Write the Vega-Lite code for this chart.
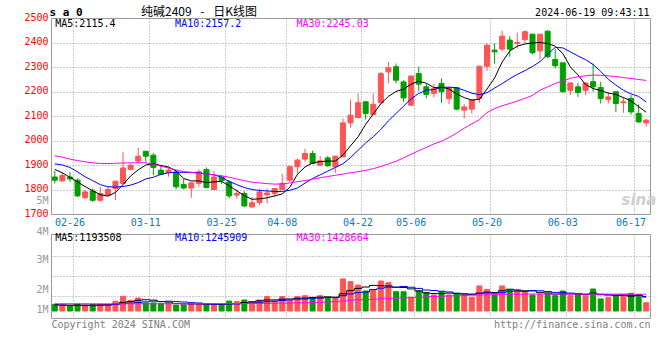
{
  "$schema": "https://vega.github.io/schema/vega-lite/v6.json",
  "autosize": {"type": "pad"},
  "padding": {"left": 23, "top": 5, "right": 5, "bottom": 5},
  "background": "#ffffff",
  "bounds": "flush",
  "spacing": 20,
  "datasets": {
    "k": [
      {"d":"02-22","o":1851,"h":1876,"l":1824,"c":1838,"v":570000,"m5":1882,"m10":1905,"m30":1938,"vm5":550000,"vm10":510000,"vm30":620000},
      {"d":"02-23","o":1835,"h":1870,"l":1833,"c":1857,"v":490000,"m5":1868,"m10":1900,"m30":1932,"vm5":520000,"vm10":500000,"vm30":620000},
      {"d":"02-26","o":1851,"h":1872,"l":1831,"c":1843,"v":430000,"m5":1850,"m10":1890,"m30":1924,"vm5":500000,"vm10":480000,"vm30":620000},
      {"d":"02-27","o":1838,"h":1845,"l":1770,"c":1774,"v":570000,"m5":1831,"m10":1872,"m30":1918,"vm5":520000,"vm10":470000,"vm30":620000},
      {"d":"02-28","o":1767,"h":1800,"l":1761,"c":1790,"v":490000,"m5":1812,"m10":1852,"m30":1913,"vm5":510000,"vm10":460000,"vm30":620000},
      {"d":"02-29","o":1794,"h":1804,"l":1750,"c":1756,"v":570000,"m5":1795,"m10":1836,"m30":1909,"vm5":510000,"vm10":460000,"vm30":610000},
      {"d":"03-01","o":1756,"h":1811,"l":1750,"c":1784,"v":570000,"m5":1779,"m10":1820,"m30":1906,"vm5":530000,"vm10":480000,"vm30":610000},
      {"d":"03-04","o":1777,"h":1811,"l":1773,"c":1800,"v":490000,"m5":1773,"m10":1811,"m30":1906,"vm5":540000,"vm10":500000,"vm30":610000},
      {"d":"03-05","o":1804,"h":1836,"l":1757,"c":1834,"v":830000,"m5":1788,"m10":1810,"m30":1907,"vm5":590000,"vm10":550000,"vm30":610000},
      {"d":"03-06","o":1825,"h":1952,"l":1820,"c":1888,"v":1260000,"m5":1820,"m10":1812,"m30":1908,"vm5":740000,"vm10":630000,"vm30":620000},
      {"d":"03-07","o":1882,"h":1906,"l":1880,"c":1899,"v":910000,"m5":1855,"m10":1818,"m30":1909,"vm5":810000,"vm10":670000,"vm30":620000},
      {"d":"03-08","o":1916,"h":1970,"l":1906,"c":1936,"v":1110000,"m5":1880,"m10":1828,"m30":1909,"vm5":920000,"vm10":730000,"vm30":620000},
      {"d":"03-11","o":1956,"h":1956,"l":1913,"c":1936,"v":690000,"m5":1900,"m10":1843,"m30":1909,"vm5":960000,"vm10":780000,"vm30":620000},
      {"d":"03-12","o":1940,"h":1948,"l":1858,"c":1890,"v":690000,"m5":1905,"m10":1850,"m30":1903,"vm5":930000,"vm10":840000,"vm30":620000},
      {"d":"03-13","o":1879,"h":1900,"l":1858,"c":1862,"v":660000,"m5":1898,"m10":1862,"m30":1895,"vm5":810000,"vm10":810000,"vm30":620000},
      {"d":"03-14","o":1869,"h":1892,"l":1852,"c":1879,"v":660000,"m5":1892,"m10":1868,"m30":1888,"vm5":760000,"vm10":840000,"vm30":620000},
      {"d":"03-15","o":1872,"h":1879,"l":1800,"c":1811,"v":510000,"m5":1876,"m10":1870,"m30":1880,"vm5":640000,"vm10":800000,"vm30":620000},
      {"d":"03-18","o":1820,"h":1845,"l":1800,"c":1806,"v":510000,"m5":1845,"m10":1870,"m30":1873,"vm5":610000,"vm10":770000,"vm30":620000},
      {"d":"03-19","o":1806,"h":1830,"l":1766,"c":1827,"v":660000,"m5":1835,"m10":1870,"m30":1870,"vm5":600000,"vm10":710000,"vm30":620000},
      {"d":"03-20","o":1825,"h":1882,"l":1811,"c":1872,"v":660000,"m5":1835,"m10":1868,"m30":1866,"vm5":600000,"vm10":680000,"vm30":620000},
      {"d":"03-21","o":1882,"h":1890,"l":1804,"c":1808,"v":510000,"m5":1828,"m10":1864,"m30":1863,"vm5":570000,"vm10":610000,"vm30":620000},
      {"d":"03-22","o":1800,"h":1876,"l":1800,"c":1851,"v":510000,"m5":1831,"m10":1860,"m30":1860,"vm5":570000,"vm10":590000,"vm30":630000},
      {"d":"03-25","o":1851,"h":1858,"l":1822,"c":1836,"v":510000,"m5":1833,"m10":1850,"m30":1856,"vm5":570000,"vm10":590000,"vm30":630000},
      {"d":"03-26","o":1831,"h":1838,"l":1763,"c":1774,"v":850000,"m5":1815,"m10":1833,"m30":1850,"vm5":610000,"vm10":600000,"vm30":630000},
      {"d":"03-27","o":1777,"h":1800,"l":1763,"c":1784,"v":800000,"m5":1795,"m10":1820,"m30":1843,"vm5":640000,"vm10":600000,"vm30":640000},
      {"d":"03-28","o":1784,"h":1793,"l":1729,"c":1733,"v":940000,"m5":1775,"m10":1808,"m30":1836,"vm5":720000,"vm10":650000,"vm30":640000},
      {"d":"03-29","o":1729,"h":1770,"l":1725,"c":1746,"v":800000,"m5":1760,"m10":1800,"m30":1830,"vm5":780000,"vm10":680000,"vm30":640000},
      {"d":"04-01","o":1747,"h":1804,"l":1736,"c":1790,"v":940000,"m5":1762,"m10":1796,"m30":1827,"vm5":870000,"vm10":740000,"vm30":650000},
      {"d":"04-02","o":1778,"h":1804,"l":1743,"c":1786,"v":1230000,"m5":1766,"m10":1794,"m30":1824,"vm5":940000,"vm10":790000,"vm30":650000},
      {"d":"04-03","o":1784,"h":1806,"l":1770,"c":1804,"v":850000,"m5":1774,"m10":1792,"m30":1822,"vm5":950000,"vm10":840000,"vm30":660000},
      {"d":"04-08","o":1800,"h":1863,"l":1798,"c":1825,"v":1230000,"m5":1782,"m10":1792,"m30":1823,"vm5":1010000,"vm10":900000,"vm30":670000},
      {"d":"04-09","o":1838,"h":1899,"l":1831,"c":1893,"v":900000,"m5":1809,"m10":1797,"m30":1827,"vm5":1030000,"vm10":950000,"vm30":680000},
      {"d":"04-10","o":1893,"h":1927,"l":1865,"c":1920,"v":1230000,"m5":1862,"m10":1806,"m30":1832,"vm5":1090000,"vm10":1010000,"vm30":690000},
      {"d":"04-11","o":1924,"h":1967,"l":1913,"c":1947,"v":1310000,"m5":1892,"m10":1826,"m30":1836,"vm5":1100000,"vm10":1030000,"vm30":700000},
      {"d":"04-12","o":1947,"h":1958,"l":1904,"c":1906,"v":1140000,"m5":1908,"m10":1845,"m30":1842,"vm5":1160000,"vm10":1090000,"vm30":720000},
      {"d":"04-15","o":1899,"h":1936,"l":1897,"c":1917,"v":1310000,"m5":1914,"m10":1860,"m30":1848,"vm5":1180000,"vm10":1100000,"vm30":740000},
      {"d":"04-16","o":1929,"h":1936,"l":1893,"c":1897,"v":1080000,"m5":1916,"m10":1875,"m30":1853,"vm5":1210000,"vm10":1150000,"vm30":770000},
      {"d":"04-17","o":1893,"h":1938,"l":1868,"c":1936,"v":1080000,"m5":1916,"m10":1890,"m30":1858,"vm5":1180000,"vm10":1140000,"vm30":800000},
      {"d":"04-18","o":1933,"h":2090,"l":1933,"c":2072,"v":2740000,"m5":1940,"m10":1905,"m30":1863,"vm5":1470000,"vm10":1310000,"vm30":860000},
      {"d":"04-19","o":2072,"h":2167,"l":2053,"c":2103,"v":2510000,"m5":1978,"m10":1930,"m30":1868,"vm5":1740000,"vm10":1460000,"vm30":920000},
      {"d":"04-22","o":2094,"h":2192,"l":2090,"c":2154,"v":2220000,"m5":2015,"m10":1960,"m30":1873,"vm5":1930000,"vm10":1570000,"vm30":960000},
      {"d":"04-23","o":2158,"h":2160,"l":2086,"c":2110,"v":1710000,"m5":2066,"m10":1990,"m30":1878,"vm5":2050000,"vm10":1620000,"vm30":980000},
      {"d":"04-24","o":2106,"h":2192,"l":2104,"c":2148,"v":1790000,"m5":2108,"m10":2015,"m30":1885,"vm5":2190000,"vm10":1830000,"vm30":1000000},
      {"d":"04-25","o":2154,"h":2280,"l":2150,"c":2273,"v":2560000,"m5":2150,"m10":2045,"m30":1894,"vm5":2160000,"vm10":1950000,"vm30":1040000},
      {"d":"04-26","o":2280,"h":2321,"l":2233,"c":2297,"v":2420000,"m5":2180,"m10":2080,"m30":1904,"vm5":2140000,"vm10":2040000,"vm30":1080000},
      {"d":"04-29","o":2301,"h":2314,"l":2233,"c":2246,"v":1650000,"m5":2200,"m10":2110,"m30":1915,"vm5":2030000,"vm10":2040000,"vm30":1100000},
      {"d":"04-30","o":2239,"h":2246,"l":2158,"c":2174,"v":1650000,"m5":2210,"m10":2140,"m30":1929,"vm5":2010000,"vm10":2100000,"vm30":1120000},
      {"d":"05-06","o":2144,"h":2265,"l":2142,"c":2263,"v":1170000,"m5":2230,"m10":2170,"m30":1944,"vm5":1890000,"vm10":2030000,"vm30":1140000},
      {"d":"05-07","o":2273,"h":2301,"l":2201,"c":2230,"v":1710000,"m5":2242,"m10":2192,"m30":1958,"vm5":1720000,"vm10":1930000,"vm30":1170000},
      {"d":"05-08","o":2219,"h":2233,"l":2172,"c":2188,"v":1570000,"m5":2234,"m10":2205,"m30":1972,"vm5":1550000,"vm10":1790000,"vm30":1200000},
      {"d":"05-09","o":2192,"h":2233,"l":2176,"c":2212,"v":1370000,"m5":2216,"m10":2208,"m30":1986,"vm5":1490000,"vm10":1750000,"vm30":1230000},
      {"d":"05-10","o":2233,"h":2253,"l":2154,"c":2199,"v":1650000,"m5":2218,"m10":2216,"m30":1997,"vm5":1490000,"vm10":1690000,"vm30":1260000},
      {"d":"05-13","o":2171,"h":2216,"l":2148,"c":2216,"v":1370000,"m5":2210,"m10":2218,"m30":2012,"vm5":1530000,"vm10":1630000,"vm30":1290000},
      {"d":"05-14","o":2216,"h":2218,"l":2124,"c":2128,"v":1510000,"m5":2190,"m10":2215,"m30":2030,"vm5":1490000,"vm10":1520000,"vm30":1310000},
      {"d":"05-15","o":2124,"h":2148,"l":2090,"c":2137,"v":1370000,"m5":2175,"m10":2205,"m30":2050,"vm5":1450000,"vm10":1470000,"vm30":1330000},
      {"d":"05-16","o":2128,"h":2167,"l":2110,"c":2165,"v":1170000,"m5":2165,"m10":2193,"m30":2068,"vm5":1410000,"vm10":1450000,"vm30":1350000},
      {"d":"05-17","o":2171,"h":2305,"l":2154,"c":2303,"v":2140000,"m5":2168,"m10":2187,"m30":2085,"vm5":1510000,"vm10":1520000,"vm30":1370000},
      {"d":"05-20","o":2303,"h":2396,"l":2284,"c":2389,"v":1850000,"m5":2210,"m10":2195,"m30":2114,"vm5":1610000,"vm10":1550000,"vm30":1390000},
      {"d":"05-21","o":2369,"h":2396,"l":2314,"c":2362,"v":1370000,"m5":2255,"m10":2214,"m30":2130,"vm5":1580000,"vm10":1520000,"vm30":1400000},
      {"d":"05-22","o":2373,"h":2448,"l":2362,"c":2426,"v":2140000,"m5":2320,"m10":2232,"m30":2142,"vm5":1730000,"vm10":1570000,"vm30":1420000},
      {"d":"05-23","o":2410,"h":2426,"l":2342,"c":2373,"v":1790000,"m5":2365,"m10":2252,"m30":2151,"vm5":1860000,"vm10":1690000,"vm30":1430000},
      {"d":"05-24","o":2396,"h":2440,"l":2376,"c":2400,"v":1790000,"m5":2385,"m10":2270,"m30":2161,"vm5":1790000,"vm10":1700000,"vm30":1440000},
      {"d":"05-27","o":2412,"h":2450,"l":2396,"c":2444,"v":1570000,"m5":2394,"m10":2285,"m30":2172,"vm5":1730000,"vm10":1660000,"vm30":1440000},
      {"d":"05-28","o":2434,"h":2434,"l":2352,"c":2358,"v":1370000,"m5":2398,"m10":2302,"m30":2184,"vm5":1730000,"vm10":1730000,"vm30":1450000},
      {"d":"05-29","o":2366,"h":2434,"l":2331,"c":2434,"v":1450000,"m5":2400,"m10":2322,"m30":2205,"vm5":1590000,"vm10":1730000,"vm30":1450000},
      {"d":"05-30","o":2446,"h":2450,"l":2335,"c":2342,"v":1510000,"m5":2396,"m10":2352,"m30":2219,"vm5":1540000,"vm10":1670000,"vm30":1450000},
      {"d":"05-31","o":2331,"h":2373,"l":2294,"c":2305,"v":1310000,"m5":2385,"m10":2380,"m30":2233,"vm5":1440000,"vm10":1590000,"vm30":1450000},
      {"d":"06-03","o":2317,"h":2317,"l":2195,"c":2199,"v":1710000,"m5":2355,"m10":2378,"m30":2242,"vm5":1470000,"vm10":1600000,"vm30":1450000},
      {"d":"06-04","o":2205,"h":2235,"l":2185,"c":2235,"v":1310000,"m5":2300,"m10":2362,"m30":2254,"vm5":1460000,"vm10":1530000,"vm30":1450000},
      {"d":"06-05","o":2219,"h":2235,"l":2178,"c":2196,"v":1420000,"m5":2268,"m10":2345,"m30":2260,"vm5":1450000,"vm10":1500000,"vm30":1450000},
      {"d":"06-06","o":2205,"h":2235,"l":2185,"c":2235,"v":1310000,"m5":2228,"m10":2330,"m30":2264,"vm5":1410000,"vm10":1430000,"vm30":1450000},
      {"d":"06-07","o":2240,"h":2314,"l":2199,"c":2219,"v":1880000,"m5":2212,"m10":2310,"m30":2267,"vm5":1530000,"vm10":1500000,"vm30":1450000},
      {"d":"06-11","o":2216,"h":2240,"l":2151,"c":2171,"v":1030000,"m5":2204,"m10":2282,"m30":2266,"vm5":1390000,"vm10":1430000,"vm30":1440000},
      {"d":"06-12","o":2167,"h":2199,"l":2151,"c":2178,"v":1140000,"m5":2193,"m10":2250,"m30":2264,"vm5":1360000,"vm10":1410000,"vm30":1440000},
      {"d":"06-13","o":2199,"h":2199,"l":2117,"c":2151,"v":1310000,"m5":2188,"m10":2226,"m30":2261,"vm5":1330000,"vm10":1370000,"vm30":1440000},
      {"d":"06-14","o":2154,"h":2178,"l":2113,"c":2158,"v":1310000,"m5":2175,"m10":2205,"m30":2257,"vm5":1330000,"vm10":1430000,"vm30":1430000},
      {"d":"06-17","o":2171,"h":2185,"l":2106,"c":2117,"v":1510000,"m5":2162,"m10":2190,"m30":2253,"vm5":1260000,"vm10":1330000,"vm30":1430000},
      {"d":"06-18","o":2110,"h":2148,"l":2072,"c":2076,"v":1420000,"m5":2138,"m10":2180,"m30":2249,"vm5":1340000,"vm10":1350000,"vm30":1430000},
      {"d":"06-19","o":2072,"h":2090,"l":2056,"c":2083,"v":710000,"m5":2115.4,"m10":2157.2,"m30":2245.03,"vm5":1193508,"vm10":1245909,"vm30":1428664}
    ]
  },
  "vconcat": [
    {
      "width": 599,
      "height": 196,
      "data": {"name": "k"},
      "title": {"text": "纯碱2409\u2002 - \u2002日K线图", "anchor": "start", "frame": "group", "dx": 90, "dy": 25, "offset": 0, "baseline": "bottom", "font": "Noto Sans CJK SC", "fontSize": 12, "fontWeight": "normal", "color": "#000000"},
      "layer": [
        {
          "mark": {"type": "rule", "strokeWidth": 1},
          "encoding": {
            "x": {"field": "d", "type": "ordinal", "sort": null,
              "axis": {"values": ["02-26","03-11","03-25","04-08","04-22","05-06","05-20","06-03","06-17"], "bandPosition": 1, "labelAngle": 0, "labelColor": "#0a78c8", "labelPadding": 3, "labelOverlap": false, "labelFlush": false, "grid": true,
                "title": "2024-06-19 09:43:11", "titleX": 598, "titleY": -202, "titleAlign": "right", "titleBaseline": "middle", "titleColor": "#000000"}},
            "y": {"field": "l", "type": "quantitative", "scale": {"domain": [1700, 2500], "nice": false, "zero": false},
              "axis": {"values": [1700,1750,1800,1900,2000,2100,2200,2300,2400,2500], "tickCount": 40, "format": "d",
                "labelExpr": "datum.value == 1750 ? '5M' : datum.label",
                "labelColor": {"condition": {"test": "datum.value == 1750", "value": "#999999"}, "value": "#ff0000"},
                "gridOpacity": {"condition": {"test": "datum.value == 1750", "value": 0}, "value": 1},
                "labelOffset": -1, "labelPadding": 3, "labelOverlap": false, "grid": true,
                "title": "s a 0", "titleAngle": 0, "titleX": -2, "titleY": -6, "titleAlign": "left", "titleBaseline": "middle", "titleFontWeight": "bold", "titleFontSize": 11, "titleColor": "#000000"}},
            "y2": {"field": "h"},
            "color": {"condition": {"test": "datum.c >= datum.o", "value": "#ff5555"}, "value": "#009f00"}
          }
        },
        {
          "mark": {"type": "bar", "size": 5, "strokeWidth": 1},
          "encoding": {
            "x": {"field": "d", "type": "ordinal", "sort": null},
            "y": {"field": "o", "type": "quantitative"},
            "y2": {"field": "c"},
            "fill": {"condition": {"test": "datum.c >= datum.o", "value": "#ff5555"}, "value": "#009f00"},
            "stroke": {"condition": {"test": "datum.c >= datum.o", "value": "#ff5555"}, "value": "#009f00"}
          }
        },
        {"mark": {"type": "line", "color": "#000000", "strokeWidth": 1}, "encoding": {"x": {"field": "d", "type": "ordinal", "sort": null}, "y": {"field": "m5", "type": "quantitative"}}},
        {"mark": {"type": "line", "color": "#0000ff", "strokeWidth": 1}, "encoding": {"x": {"field": "d", "type": "ordinal", "sort": null}, "y": {"field": "m10", "type": "quantitative"}}},
        {"mark": {"type": "line", "color": "#ff00ff", "strokeWidth": 1}, "encoding": {"x": {"field": "d", "type": "ordinal", "sort": null}, "y": {"field": "m30", "type": "quantitative"}}},
        {"transform": [{"filter": "datum.d == '02-22'"}], "mark": {"type": "text", "align": "left", "baseline": "middle", "dx": 0.5, "color": "#000000"}, "encoding": {"x": {"field": "d", "type": "ordinal", "sort": null}, "y": {"datum": 2475}, "text": {"value": "MA5:2115.4"}}},
        {"transform": [{"filter": "datum.d == '03-15'"}], "mark": {"type": "text", "align": "left", "baseline": "middle", "dx": -1, "color": "#0000ff"}, "encoding": {"x": {"field": "d", "type": "ordinal", "sort": null}, "y": {"datum": 2475}, "text": {"value": "MA10:2157.2"}}},
        {"transform": [{"filter": "datum.d == '04-10'"}], "mark": {"type": "text", "align": "left", "baseline": "middle", "dx": -1, "color": "#ff00ff"}, "encoding": {"x": {"field": "d", "type": "ordinal", "sort": null}, "y": {"datum": 2475}, "text": {"value": "MA30:2245.03"}}},
        {"transform": [{"filter": "datum.d == '06-14'"}], "mark": {"type": "text", "align": "left", "baseline": "middle", "dx": -2, "font": "DejaVu Sans", "fontSize": 15, "fontStyle": "italic", "fontWeight": "bold", "color": "#cfcfcf"}, "encoding": {"x": {"field": "d", "type": "ordinal", "sort": null}, "y": {"datum": 1758}, "text": {"value": "sina"}}}
      ]
    },
    {
      "width": 599,
      "height": 84,
      "data": {"name": "k"},
      "layer": [
        {
          "mark": {"type": "bar", "size": 5, "strokeWidth": 1},
          "encoding": {
            "x": {"field": "d", "type": "ordinal", "sort": null,
              "axis": {"values": ["02-26","03-11","03-25","04-08","04-22","05-06","05-20","06-03","06-17"], "bandPosition": 1, "labels": false, "grid": true,
                "title": "Copyright 2024 SINA.COM", "titleX": 0, "titleY": 6, "titleAlign": "left", "titleBaseline": "middle", "titleColor": "#808080"}},
            "y": {"field": "v", "type": "quantitative", "scale": {"domain": [-598000, 6581000], "nice": false, "zero": false},
              "axis": {"values": [6581000, 4726000, 3017000, 1308000], "tickCount": 40,
                "labelExpr": "datum.value > 6000000 ? '4M' : datum.value > 4000000 ? '3M' : datum.value > 2000000 ? '2M' : '1M'",
                "labelOffset": {"condition": [{"test": "datum.value > 6000000", "value": -3}, {"test": "datum.value > 4000000", "value": 4}], "value": 14},
                "labelColor": "#999999", "labelPadding": 3, "labelOverlap": false, "grid": true,
                "title": "http://finance.sina.com.cn", "titleAngle": 0, "titleX": 599, "titleY": 90, "titleAlign": "right", "titleBaseline": "middle", "titleColor": "#808080"}},
            "y2": {"datum": 0},
            "fill": {"condition": {"test": "datum.c >= datum.o", "value": "#ff5555"}, "value": "#009f00"},
            "stroke": {"condition": {"test": "datum.c >= datum.o", "value": "#ff5555"}, "value": "#009f00"}
          }
        },
        {"mark": {"type": "line", "interpolate": "step", "color": "#000000", "strokeWidth": 1}, "encoding": {"x": {"field": "d", "type": "ordinal", "sort": null}, "y": {"field": "vm5", "type": "quantitative"}}},
        {"mark": {"type": "line", "interpolate": "step", "color": "#0000ff", "strokeWidth": 1}, "encoding": {"x": {"field": "d", "type": "ordinal", "sort": null}, "y": {"field": "vm10", "type": "quantitative"}}},
        {"mark": {"type": "line", "interpolate": "step", "color": "#ff00ff", "strokeWidth": 1}, "encoding": {"x": {"field": "d", "type": "ordinal", "sort": null}, "y": {"field": "vm30", "type": "quantitative"}}},
        {"transform": [{"filter": "datum.d == '02-22'"}], "mark": {"type": "text", "align": "left", "baseline": "middle", "dx": 0.5, "color": "#000000"}, "encoding": {"x": {"field": "d", "type": "ordinal", "sort": null}, "y": {"datum": 6240000}, "text": {"value": "MA5:1193508"}}},
        {"transform": [{"filter": "datum.d == '03-15'"}], "mark": {"type": "text", "align": "left", "baseline": "middle", "dx": -1, "color": "#0000ff"}, "encoding": {"x": {"field": "d", "type": "ordinal", "sort": null}, "y": {"datum": 6240000}, "text": {"value": "MA10:1245909"}}},
        {"transform": [{"filter": "datum.d == '04-10'"}], "mark": {"type": "text", "align": "left", "baseline": "middle", "dx": -1, "color": "#ff00ff"}, "encoding": {"x": {"field": "d", "type": "ordinal", "sort": null}, "y": {"datum": 6240000}, "text": {"value": "MA30:1428664"}}}
      ]
    }
  ],
  "config": {
    "view": {"stroke": "#999999", "strokeWidth": 1},
    "scale": {"bandPaddingInner": 0, "bandPaddingOuter": 0},
    "axis": {"labelFont": "DejaVu Sans Mono", "labelFontSize": 10, "titleFont": "DejaVu Sans Mono", "titleFontSize": 10, "titleFontWeight": "normal", "gridDash": [1, 2], "gridColor": "#999999", "gridOpacity": 1, "ticks": false, "domain": false},
    "text": {"font": "DejaVu Sans Mono", "fontSize": 10}
  }
}
